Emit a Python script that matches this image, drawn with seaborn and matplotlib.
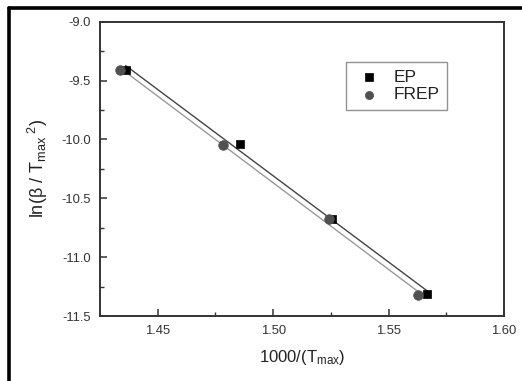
import numpy as np
import pandas as pd
import matplotlib
matplotlib.use("Agg")
import matplotlib.pyplot as plt
from matplotlib.lines import Line2D
import seaborn as sns

# Data
ep_x = [1.4361, 1.4856, 1.5254, 1.5668]
ep_y = [-9.41, -10.04, -10.676, -11.313]
frep_x = [1.4337, 1.4784, 1.5243, 1.5626]
frep_y = [-9.41, -10.045, -10.68, -11.324]
series_names = ["EP", "FREP"]
x_ticks = [1.45, 1.50, 1.55, 1.60]
y_ticks = [-9.0, -9.5, -10.0, -10.5, -11.0, -11.5]

sns.set_theme(style="ticks")
plt.rcParams['font.family'] = ['Liberation Sans', 'DejaVu Sans']
plt.rcParams['axes.unicode_minus'] = False
plt.rcParams['mathtext.fontset'] = 'custom'
plt.rcParams['mathtext.rm'] = 'Liberation Sans'
plt.rcParams['mathtext.it'] = 'Liberation Sans'

fig = plt.figure(figsize=(5.22, 3.81), dpi=100)
ax = fig.add_axes([0.1916, 0.1706, 0.9655 - 0.1916, 0.943 - 0.1706])

ep = pd.DataFrame({"x": ep_x, "y": ep_y})
frep = pd.DataFrame({"x": frep_x, "y": frep_y})

sns.regplot(data=ep, x="x", y="y", scatter=False, ci=None, ax=ax,
            line_kws=dict(color="#444444", lw=1.0))
sns.regplot(data=frep, x="x", y="y", scatter=False, ci=None, ax=ax,
            line_kws=dict(color="#999999", lw=1.0))
sns.scatterplot(data=ep, x="x", y="y", marker="s", color="black", s=38,
                edgecolor="black", linewidth=0.5, label=series_names[0], ax=ax, zorder=3)
sns.scatterplot(data=frep, x="x", y="y", marker="o", color="#505050", s=48,
                edgecolor="#505050", linewidth=0.5, label=series_names[1], ax=ax, zorder=3)

ax.set_xlim(1.425, 1.60)
ax.set_ylim(-11.5, -9.0)
ax.set_xticks(x_ticks)
ax.set_xticklabels([f"{v:.2f}" for v in x_ticks])
ax.set_yticks(y_ticks)
ax.set_yticklabels([f"{v:.1f}" for v in y_ticks])
ax.set_xticks([1.475, 1.525, 1.575], minor=True)
ax.set_yticks([-9.25, -9.75, -10.25, -10.75, -11.25], minor=True)

ax.tick_params(which="both", direction="in", colors="#333333", labelcolor="#333333",
               labelsize=9.4, top=False, right=False)
ax.tick_params(which="major", length=5, width=1.1, pad=6.5)
ax.tick_params(which="minor", length=3, width=1.0)
for s in ax.spines.values():
    s.set_visible(True)
    s.set_color("#333333")
    s.set_linewidth(1.4)

ax.set_xlabel(r"1000/(T$_{\mathrm{max}}$)", fontsize=12, color="#222222", labelpad=8)
ax.set_ylabel(r"ln($\beta$ / T$_{\mathrm{max}}$$^{\ 2}$)", fontsize=13, color="#222222", labelpad=8)

leg = ax.legend(loc="upper left", bbox_to_anchor=((345.7 - 100) / 404, 1 - (61.7 - 21.7) / 294.3),
                borderaxespad=0, frameon=True, fancybox=False, fontsize=12.5, handletextpad=0.5,
                borderpad=0.45, labelspacing=0.15, handlelength=1.8, markerscale=0.85)
leg.get_frame().set_edgecolor("#777777")
leg.get_frame().set_linewidth(1.0)
for t in leg.get_texts():
    t.set_color("#222222")

# Figure frame (top and left borders)
fig.add_artist(Line2D([0.0172, 1.0], [0.9777, 0.9777], transform=fig.transFigure,
                      color="black", lw=2.6))
fig.add_artist(Line2D([0.0172, 0.0172], [0.0, 0.9777], transform=fig.transFigure,
                      color="black", lw=2.6))

fig.savefig("out.png", dpi=100)
